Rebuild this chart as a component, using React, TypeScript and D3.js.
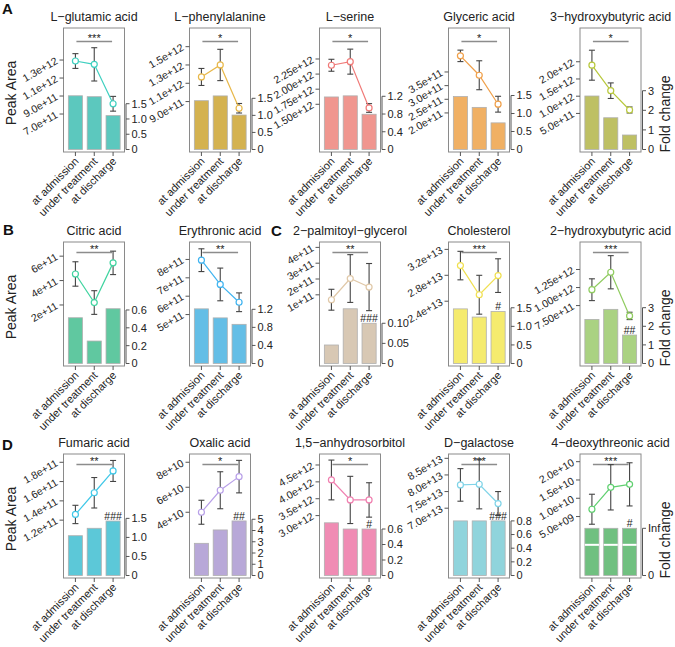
import React from "react";
import * as d3 from "d3";

const groups = ["at admission", "under treatment", "at discharge"];

const titles = [
  "L\u2212glutamic acid", "L\u2212phenylalanine", "L\u2212serine", "Glyceric acid", "3\u2212hydroxybutyric acid",
  "Citric acid", "Erythronic acid", "2\u2212palmitoyl\u2212glycerol", "Cholesterol", "2\u2212hydroxybutyric acid",
  "Fumaric acid", "Oxalic acid", "1,5\u2212anhydrosorbitol", "D\u2212galactose", "4\u2212deoxythreonic acid",
];

// Peak area (left axis): mean and SD for each group
const peakMeans = [
  [1.289e12, 1.252e12, 8.14e11],
  [1.169e12, 1.30e12, 8.27e11],
  [2.146e12, 2.206e12, 1.439e12],
  [4.09e11, 3.38e11, 2.32e11],
  [1.90e12, 1.16e12, 6.0e11],
  [4.54e11, 2.2e11, 5.45e11],
  [7.96e11, 6.64e11, 5.67e11],
  [6.9e10, 2.03e11, 1.49e11],
  [2.95e13, 2.50e13, 2.795e13],
  [9.7e11, 1.212e12, 6.07e11],
  [1.259e11, 1.484e11, 1.71e11],
  [4.0e10, 5.76e10, 6.85e10],
  [4.056e12, 3.464e12, 3.464e12],
  [7.70e13, 7.72e13, 7.14e13],
  [7.0e9, 1.30e10, 1.38e10],
];
const peakSD = [
  [8.2e10, 1.85e11, 8.2e10],
  [9.3e10, 1.71e11, 5.2e10],
  [9.9e10, 2.07e11, 7.2e10],
  [2.1e10, 5.3e10, 2.9e10],
  [4.35e11, 2.26e11, 8.7e10],
  [1.0e11, 9.7e10, 9.6e10],
  [6.2e10, 8.9e10, 5.1e10],
  [6.6e10, 1.51e11, 1.49e11],
  [2.2e12, 3.0e12, 2.6e12],
  [1.51e11, 2.3e11, 5.1e10],
  [9.5e9, 1.58e10, 1.09e10],
  [9.6e9, 1.48e10, 1.3e10],
  [5.9e11, 7.0e11, 5.1e11],
  [4.9e12, 7.4e12, 3.6e12],
  [4.1e9, 6.2e9, 5.9e9],
];
const peakDomains = [
  [2.78e11, 1.656e12], [3.49e11, 1.704e12], [7.1e11, 2.763e12], [5.7e10, 5.11e11], [-6.2e11, 2.98e12],
  [-3.0e11, 7.16e11], [2.2e11, 8.95e11], [-3.5e11, 4.34e11], [1.40e13, 3.314e13], [-0.87e11, 1.631e12],
  [6.0e10, 1.886e11], [-1.26e10, 8.66e10], [1.15e12, 4.826e12], [4.9e13, 8.63e13], [-1.18e10, 2.21e10],
];
const peakTicks = [
  [7e11, 9e11, 1.1e12, 1.3e12], [9e11, 1.1e12, 1.3e12, 1.5e12], [1.5e12, 1.75e12, 2.0e12, 2.25e12],
  [2e11, 2.5e11, 3e11, 3.5e11], [5e11, 1e12, 1.5e12, 2e12],
  [2e11, 4e11, 6e11], [5e11, 6e11, 7e11, 8e11], [1e11, 2e11, 3e11, 4e11], [2.4e13, 2.8e13, 3.2e13],
  [7.5e11, 1e12, 1.25e12],
  [1.2e11, 1.4e11, 1.6e11, 1.8e11], [4e10, 6e10, 8e10], [3e12, 3.5e12, 4e12, 4.5e12],
  [7e13, 7.5e13, 8e13, 8.5e13], [5e9, 1e10, 1.5e10, 2e10],
];
const peakTickLabels = [
  ["7.0e+11", "9.0e+11", "1.1e+12", "1.3e+12"], ["9.0e+11", "1.1e+12", "1.3e+12", "1.5e+12"],
  ["1.50e+12", "1.75e+12", "2.00e+12", "2.25e+12"], ["2.0e+11", "2.5e+11", "3.0e+11", "3.5e+11"],
  ["5.0e+11", "1.0e+12", "1.5e+12", "2.0e+12"],
  ["2e+11", "4e+11", "6e+11"], ["5e+11", "6e+11", "7e+11", "8e+11"], ["1e+11", "2e+11", "3e+11", "4e+11"],
  ["2.4e+13", "2.8e+13", "3.2e+13"], ["7.50e+11", "1.00e+12", "1.25e+12"],
  ["1.2e+11", "1.4e+11", "1.6e+11", "1.8e+11"], ["4e+10", "6e+10", "8e+10"],
  ["3.0e+12", "3.5e+12", "4.0e+12", "4.5e+12"], ["7.0e+13", "7.5e+13", "8.0e+13", "8.5e+13"],
  ["5.0e+09", "1.0e+10", "1.5e+10", "2.0e+10"],
];

// Fold change (right axis, bars)
const foldValues = [
  [1.76, 1.73, 1.11], [1.43, 1.57, 1.01], [1.185, 1.21, 0.795], [1.47, 1.17, 0.74], [2.73, 1.62, 0.74],
  [0.513, 0.252, 0.614], [1.21, 1.01, 0.867], [0.046, 0.136, 0.10], [1.47, 1.25, 1.40], [2.37, 2.91, 1.53],
  [1.045, 1.24, 1.43], [2.86, 4.05, 4.85], [0.68, 0.60, 0.60], [0.8, 0.8, 0.8], [Infinity, Infinity, Infinity],
];
const foldMax = [3.98, 3.56, 2.74, 3.375, 6.2, 1.362, 2.69, 0.302, 3.27, 6.53, 3.19, 10.8, 1.568, 1.78, 2.574];
const foldTicks = [
  [0, 0.5, 1, 1.5], [0, 0.5, 1, 1.5], [0, 0.4, 0.8, 1.2], [0, 0.5, 1, 1.5], [0, 1, 2, 3],
  [0, 0.2, 0.4, 0.6], [0, 0.4, 0.8, 1.2], [0, 0.05, 0.1], [0, 0.5, 1, 1.5], [0, 1, 2, 3],
  [0, 0.5, 1, 1.5], [0, 1, 2, 3, 4, 5], [0, 0.2, 0.4, 0.6], [0, 0.2, 0.4, 0.6, 0.8], [0, Infinity],
];
const foldTickLabels = [
  ["0", "0.5", "1.0", "1.5"], ["0", "0.5", "1.0", "1.5"], ["0", "0.4", "0.8", "1.2"], ["0", "0.5", "1.0", "1.5"],
  ["0", "1", "2", "3"],
  ["0", "0.2", "0.4", "0.6"], ["0", "0.4", "0.8", "1.2"], ["0", "0.05", "0.10"], ["0", "0.5", "1.0", "1.5"],
  ["0", "1", "2", "3"],
  ["0", "0.5", "1.0", "1.5"], ["0", "1", "2", "3", "4", "5"], ["0", "0.2", "0.4", "0.6"],
  ["0", "0.2", "0.4", "0.6", "0.8"], ["0", "Inf"],
];

const sigStars = ["***", "*", "*", "*", "*", "**", "**", "**", "***", "***", "**", "*", "*", "***", "***"];
const hashMarks = ["", "", "", "", "", "", "", "###", "#", "##", "###", "##", "#", "###", "#"];

const barColors = [
  "#5cc8be", "#d4b250", "#f0968f", "#f0b064", "#bec064",
  "#60c8a0", "#64bee6", "#d8c8b4", "#f5eb6e", "#aad282",
  "#5cc8d8", "#b8a8d8", "#f08cb4", "#90d4dc", "#70c080",
];
const lineColors = [
  "#3fd0c0", "#e8b84a", "#f07a78", "#f0a04a", "#b8c83c",
  "#40d4a0", "#40b4f0", "#e0c8a8", "#f0e050", "#90cc60",
  "#40c8e8", "#b8a0e8", "#f080b0", "#80d4e8", "#60d070",
];

// layout
const W = 675, H = 647;
const colLefts = [63.5, 189.5, 319.5, 448.5, 580];
const rowTops = [28, 242, 454];
const boxW = 61, boxH = 124;
const sigOffsets = [13.5, 10.5, 10.5];
const FONT = "'Liberation Sans', Arial, Helvetica, sans-serif";
const INF_CAP = 1;

const capInf = (v: number) => (isFinite(v) ? v : INF_CAP);

function Panel({ i }: { i: number }) {
  const row = Math.floor(i / 5), col = i % 5;
  const x0 = colLefts[col], y0 = rowTops[row];
  const x1 = x0 + boxW, y1 = y0 + boxH;
  const xb = d3.scaleBand<string>().domain(groups).range([x0 + 2.5, x1 - 2]).paddingInner(0.25).paddingOuter(0.125);
  const cx = (g: string) => (xb(g) as number) + xb.bandwidth() / 2;
  const yPeak = d3.scaleLinear().domain(peakDomains[i]).range([y1, y0]);
  const yFold = d3.scaleLinear().domain([0, foldMax[i]]).range([y1 - 2.5, y0]);
  const means = peakMeans[i], sds = peakSD[i], folds = foldValues[i];
  const line = d3.line<number>().x((_, k) => cx(groups[k])).y((d) => yPeak(d));
  const fTicks = foldTicks[i];
  const topFold = yFold(capInf(fTicks[fTicks.length - 1]));
  const sigY = y0 + sigOffsets[row];
  const bw = xb.bandwidth();
  return (
    <g>
      {/* bars */}
      {groups.map((g, k) => {
        const v = capInf(folds[k]);
        const yt = yFold(v), yb = yFold(0);
        return (
          <g key={"b" + k}>
            <rect x={xb(g)} y={yt} width={bw} height={yb - yt} fill={barColors[i]} stroke="#b0b0b0" strokeWidth={0.8} />
            {!isFinite(folds[k]) && (
              <line x1={xb(g)} x2={(xb(g) as number) + bw} y1={yt + (yb - yt) * 0.35} y2={yt + (yb - yt) * 0.35} stroke="#fff" strokeWidth={2} />
            )}
          </g>
        );
      })}
      {hashMarks[i] && (
        <text x={cx(groups[2])} y={yFold(capInf(folds[2])) - 1} textAnchor="middle" fontSize={10.5} fill="#222" fontFamily={FONT}>
          {hashMarks[i]}
        </text>
      )}
      {/* box */}
      <rect x={x0} y={y0} width={boxW} height={boxH} fill="none" stroke="#8a8a8a" strokeWidth={1} />
      {/* significance */}
      <line x1={cx(groups[0]) + 1} x2={cx(groups[2]) - 1} y1={sigY} y2={sigY} stroke="#8c8c8c" strokeWidth={1.5} />
      <text x={(cx(groups[0]) + cx(groups[2])) / 2} y={sigY} textAnchor="middle" fontSize={11} fill="#222" fontFamily={FONT}>
        {sigStars[i]}
      </text>
      {/* error bars */}
      {groups.map((g, k) => {
        const x = cx(g), ya = yPeak(means[k] + sds[k]), yb = yPeak(means[k] - sds[k]);
        return (
          <g key={"e" + k} stroke="#444" strokeWidth={1.1}>
            <line x1={x} x2={x} y1={ya} y2={yb} />
            <line x1={x - 3} x2={x + 3} y1={ya} y2={ya} />
            <line x1={x - 3} x2={x + 3} y1={yb} y2={yb} />
          </g>
        );
      })}
      <path d={line(means) || ""} fill="none" stroke={lineColors[i]} strokeWidth={1.2} />
      {groups.map((g, k) => (
        <circle key={"p" + k} cx={cx(g)} cy={yPeak(means[k])} r={3} fill="#fff" stroke={lineColors[i]} strokeWidth={1.2} />
      ))}
      {/* left axis */}
      {peakTicks[i].map((t, k) => (
        <g key={"l" + k}>
          <line x1={x0 - 4} x2={x0} y1={yPeak(t)} y2={yPeak(t)} stroke="#555" strokeWidth={1} />
          <text transform={`translate(${x0 - 5},${yPeak(t) + 3}) rotate(-30)`} textAnchor="end" fontSize={10.5} fill="#222" fontFamily={FONT}>
            {peakTickLabels[i][k]}
          </text>
        </g>
      ))}
      {/* right axis */}
      <line x1={x1 + 1.5} x2={x1 + 1.5} y1={yFold(0)} y2={topFold} stroke="#555" strokeWidth={1} />
      {fTicks.map((t, k) => (
        <g key={"r" + k}>
          <line x1={x1 + 1.5} x2={x1 + 5} y1={yFold(capInf(t))} y2={yFold(capInf(t))} stroke="#555" strokeWidth={1} />
          <text x={x1 + 7} y={yFold(capInf(t))} dy="0.35em" fontSize={11} fill="#222" fontFamily={FONT}>
            {foldTickLabels[i][k]}
          </text>
        </g>
      ))}
      {/* x axis */}
      {groups.map((g, k) => (
        <g key={"x" + k}>
          <line x1={cx(g)} x2={cx(g)} y1={y1} y2={y1 + 4} stroke="#555" strokeWidth={1} />
          <text transform={`translate(${cx(g) + 4},${y1 + 10}) rotate(-45)`} textAnchor="end" fontSize={11} fill="#222" fontFamily={FONT}>
            {g}
          </text>
        </g>
      ))}
      {/* title */}
      <text x={(x0 + x1) / 2} y={y0 - 7} textAnchor="middle" fontSize={12.5} fill="#222" fontFamily={FONT}>
        {titles[i]}
      </text>
    </g>
  );
}

const panelLetters = ["A", "B", "C", "D"];
const letterPos = [[2, 13.5], [3, 235], [271, 236], [2, 450]];

export default function App() {
  return (
    <svg width={W} height={H} style={{ position: "absolute", left: 0, top: 0, background: "#fff" }}>
      <rect width={W} height={H} fill="#fff" />
      {titles.map((_, i) => <Panel key={i} i={i} />)}
      {rowTops.map((t, r) => (
        <g key={"yl" + r}>
          <text transform={`translate(15.5,${t + boxH / 2 + 3}) rotate(-90)`} textAnchor="middle" fontSize={14} fill="#222" fontFamily={FONT}>
            Peak Area
          </text>
          <text transform={`translate(670,${t + 86}) rotate(-90)`} textAnchor="middle" fontSize={14} fill="#222" fontFamily={FONT}>
            Fold change
          </text>
        </g>
      ))}
      {panelLetters.map((l, k) => (
        <text key={l} x={letterPos[k][0]} y={letterPos[k][1]} fontSize={15} fontWeight="bold" fill="#111" fontFamily={FONT}>
          {l}
        </text>
      ))}
    </svg>
  );
}
